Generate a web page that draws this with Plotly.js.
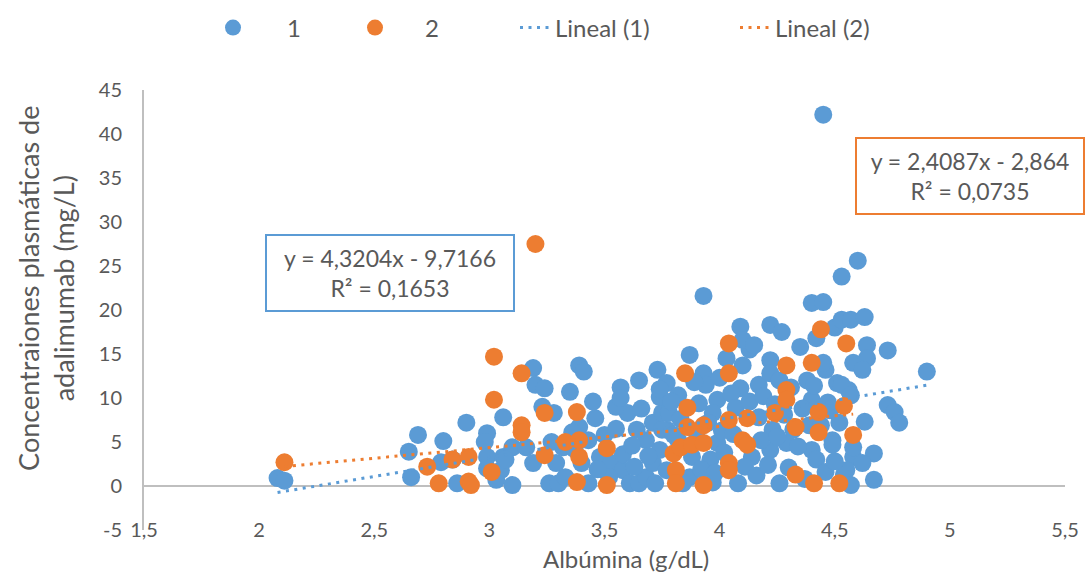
<!DOCTYPE html>
<html>
<head>
<meta charset="utf-8">
<script src="https://cdn.plot.ly/plotly-3.0.1.min.js"></script>
<style>
  html, body { margin: 0; padding: 0; background: #ffffff; }
  #chart { width: 1086px; height: 575px; }
</style>
</head>
<body>
<div id="chart"></div>
<script>
// Series 1: albumin (g/dL) vs adalimumab plasma concentration (mg/L)
const albumin1 = [
  2.08, 2.11, 2.65, 2.66, 2.69, 2.79, 2.80, 2.84, 2.86, 2.90,
  2.99, 2.98, 2.99, 3.03, 2.99, 3.06, 3.06, 3.05, 3.10, 3.10,
  3.16, 3.19, 3.19, 3.20, 3.24, 3.23, 3.28, 3.35, 3.39, 3.41,
  3.26, 3.30, 3.32, 3.29, 3.33, 3.43, 3.39, 3.43, 3.46, 3.48,
  3.53, 3.58, 3.61, 3.65, 3.68, 3.71, 3.74, 3.68, 3.64, 3.71,
  3.75, 3.77, 3.60, 3.55, 3.57, 3.57, 3.65, 3.73, 3.77,
  3.87, 4.03, 4.10, 4.13, 4.22, 4.35, 4.42, 4.58, 3.93, 3.74,
  3.82, 3.94, 3.99, 4.09, 4.17, 4.22, 4.26, 4.38, 4.46, 4.51,
  4.56, 4.40, 4.48, 4.52, 4.32, 4.23, 4.17, 3.97, 3.91, 3.78,
  3.75, 3.82, 3.88, 3.96, 3.99, 4.14, 4.22, 4.29, 4.40, 4.42,
  4.49, 4.58, 3.77, 3.87, 3.97, 4.08, 4.26, 4.54,
  4.45, 3.93, 4.60, 4.53, 4.40, 4.45, 4.09, 4.22, 4.27, 4.50,
  4.53, 4.57, 4.63, 4.10, 4.15, 4.64, 4.64, 4.73, 4.62, 4.45,
  4.90, 4.53, 4.57, 4.73, 4.76, 4.78, 4.63, 4.49, 4.58, 4.67,
  4.62, 4.55, 4.67, 4.57,
  3.50, 3.52, 3.55, 3.58, 3.62, 3.63, 3.66, 3.69, 3.72, 3.74,
  3.79, 3.80, 3.83, 3.84, 3.89, 3.90, 3.92, 3.95, 3.98, 4.00,
  4.01, 4.02, 4.05, 4.06, 4.07, 4.11, 4.13, 4.16, 4.18, 4.19,
  4.21, 4.24, 4.25, 4.28, 4.30, 4.31, 4.34, 4.36, 4.37, 4.39,
  4.41, 4.44, 4.46, 4.47, 4.50, 3.45, 3.47, 3.40, 3.37, 3.36,
  3.07, 3.27
];
const conc1 = [
  0.9, 0.6, 3.9, 1.0, 5.8, 2.7, 5.1, 3.0, 0.3, 7.2,
  6.0, 5.0, 2.0, 0.7, 3.3, 7.8, 3.3, 1.8, 4.4, 0.1,
  4.4, 2.6, 13.4, 11.5, 11.1, 9.0, 8.3, 10.7, 13.7, 13.0,
  0.3, 0.3, 4.4, 2.6, 1.0, 0.3, 6.7, 5.2, 7.7, 3.3,
  2.6, 1.8, 0.3, 0.3, 1.0, 2.6, 4.1, 5.2, 6.4, 7.2,
  8.3, 6.4, 8.3, 9.0, 11.2, 10.0, 12.0, 13.2, 11.7,
  14.9, 14.5, 13.7, 15.5, 14.3, 15.8, 16.8, 14.0, 12.8, 10.1,
  10.3, 11.5, 9.8, 11.1, 11.5, 12.8, 12.0, 12.0, 13.2, 11.7,
  10.9, 9.8, 8.6, 7.2, 6.4, 6.4, 7.8, 8.3, 9.4, 8.3,
  6.4, 5.2, 3.3, 3.0, 4.9, 3.3, 4.1, 4.9, 4.1, 3.0,
  5.2, 3.3, 1.8, 1.0, 0.4, 0.3, 0.3, 1.3,
  42.2, 21.6, 25.6, 23.8, 20.8, 20.9, 18.1, 18.3, 17.5, 18.0,
  18.9, 18.9, 19.2, 16.6, 16.0, 16.0, 14.5, 15.4, 13.2, 14.0,
  13.0, 11.5, 10.3, 9.2, 8.4, 7.2, 7.3, 4.7, 4.4, 3.7,
  2.6, 1.8, 0.7, 0.1,
  5.8, 1.0, 6.5, 3.6, 4.6, 2.2, 8.8, 3.4, 0.3, 11.0,
  9.6, 5.8, 7.6, 0.3, 11.8, 6.1, 1.9, 7.2, 1.5, 12.3,
  6.3, 3.8, 10.5, 5.9, 8.9, 2.2, 9.6, 1.2, 5.2, 10.2,
  2.4, 9.3, 5.6, 8.1, 2.1, 11.2, 4.5, 8.8, 0.8, 6.9,
  11.4, 6.9, 1.6, 9.5, 2.8, 9.6, 1.9, 2.6, 4.2, 6.1,
  3.0, 5.0
];

// Series 2
const albumin2 = [
  2.11, 2.73, 2.78, 2.84, 2.91, 2.91, 2.92, 3.02, 3.01, 3.02,
  3.14, 3.20, 3.24, 3.38, 3.14, 3.14, 3.33, 3.39, 3.51, 3.24,
  3.39, 3.38, 3.51, 3.80, 3.81, 3.81, 4.04, 3.85, 4.04, 4.29,
  4.40, 4.44, 4.55, 3.86, 4.29, 4.29, 3.86, 3.93, 4.04, 4.12,
  4.24, 4.33, 4.43, 4.43, 4.54, 4.58, 3.83, 3.88, 3.93, 4.10,
  4.12, 4.04, 4.04, 3.93, 4.33, 4.41, 4.52
];
const conc2 = [
  2.7, 2.2, 0.3, 3.0, 3.3, 0.5, 0.1, 9.8, 1.6, 14.7,
  12.8, 27.5, 8.3, 8.4, 6.9, 6.1, 5.0, 5.2, 4.3, 3.5,
  3.3, 0.45, 0.1, 3.7, 1.8, 0.3, 16.2, 12.8, 12.8, 13.7,
  14.0, 17.8, 16.2, 8.9, 10.9, 9.8, 6.7, 6.9, 7.5, 7.7,
  8.3, 6.7, 8.4, 6.1, 9.1, 5.8, 4.4, 4.7, 4.9, 5.2,
  4.7, 2.6, 1.8, 0.1, 1.3, 0.3, 0.3
];

// Linear fits as printed on the chart
const seriesNames = ['1', '2'];
const trendNames = ['Lineal (1)', 'Lineal (2)'];
const trendSlope = [4.3204, 2.4087];
const trendIntercept = [-9.7166, -2.864];
const trendLabels = [
  'y = 4,3204x - 9,7166<br>R² = 0,1653',
  'y = 2,4087x - 2,864<br>R² = 0,0735'
];

const xTickVals = [1.5, 2, 2.5, 3, 3.5, 4, 4.5, 5, 5.5];
const xTickText = ['1,5', '2', '2,5', '3', '3,5', '4', '4,5', '5', '5,5'];
const yTickVals = [-5, 0, 5, 10, 15, 20, 25, 30, 35, 40, 45];
const yTickText = ['-5', '0', '5', '10', '15', '20', '25', '30', '35', '40', '45'];
const xTitle = 'Albúmina (g/dL)';
const yTitle = 'Concentraiones plasmáticas de<br>adalimumab (mg/L)';

const BLUE = '#5B9BD5';
const ORANGE = '#ED7D31';
const GREY_TEXT = '#595959';
const FONT = 'Lato, "Open Sans", sans-serif';
const W = 1086, H = 575;

function trendLine(xs, i) {
  const lo = Math.min(...xs), hi = Math.max(...xs);
  return {
    x: [lo, hi],
    y: [trendSlope[i] * lo + trendIntercept[i], trendSlope[i] * hi + trendIntercept[i]]
  };
}

const t1 = trendLine(albumin1, 0);
const t2 = trendLine(albumin2, 1);
const DOTS = '3px,5.5px';

const data = [
  {
    x: albumin1, y: conc1, name: seriesNames[0], type: 'scatter', mode: 'markers',
    marker: { color: BLUE, size: 18 }, cliponaxis: false, legend: 'legend'
  },
  {
    x: albumin2, y: conc2, name: seriesNames[1], type: 'scatter', mode: 'markers',
    marker: { color: ORANGE, size: 18 }, cliponaxis: false, legend: 'legend2'
  },
  {
    x: t1.x, y: t1.y, name: trendNames[0], type: 'scatter', mode: 'lines',
    line: { color: BLUE, width: 3, dash: DOTS }, legend: 'legend3'
  },
  {
    x: t2.x, y: t2.y, name: trendNames[1], type: 'scatter', mode: 'lines',
    line: { color: ORANGE, width: 3, dash: DOTS }, legend: 'legend4'
  }
];

// one legend box per entry so each entry sits where it belongs in the header row
function legendAt(leftPx, itemwidth) {
  return {
    xref: 'container', yref: 'container',
    x: leftPx / W, xanchor: 'left', y: 1 - 28 / H, yanchor: 'middle',
    font: { size: 24, color: GREY_TEXT, family: FONT },
    itemwidth: itemwidth, borderwidth: 0, bgcolor: 'rgba(0,0,0,0)'
  };
}

const layout = {
  width: W, height: H,
  margin: { l: 144, r: 21, t: 90, b: 45, autoexpand: false },
  paper_bgcolor: '#ffffff', plot_bgcolor: '#ffffff',
  font: { family: FONT, color: GREY_TEXT, size: 20 },
  showlegend: true,
  legend: legendAt(179, 98),
  legend2: legendAt(325, 90),
  legend3: legendAt(515, 30),
  legend4: legendAt(735, 30),
  xaxis: {
    range: [1.5, 5.5], tickvals: xTickVals, ticktext: xTickText,
    showgrid: false, zeroline: false, showline: false, ticks: '', automargin: false,
    tickfont: { size: 20, color: GREY_TEXT }, ticklabelstandoff: -14
  },
  yaxis: {
    range: [-5, 45], tickvals: yTickVals, ticktext: yTickText, automargin: false,
    showgrid: false, zeroline: false, showline: true, linecolor: '#BFBFBF', linewidth: 2,
    ticks: '', tickfont: { size: 20, color: GREY_TEXT }, ticklabelstandoff: 16
  },
  shapes: [
    { type: 'line', xref: 'paper', x0: 0, x1: 1, yref: 'y', y0: 0, y1: 0,
      line: { color: '#BFBFBF', width: 2 }, layer: 'below' }
  ],
  annotations: [
    {
      text: xTitle, xref: 'paper', yref: 'paper', x: 0.523, y: -0.064,
      xanchor: 'center', yanchor: 'middle', showarrow: false,
      font: { size: 24, color: GREY_TEXT }
    },
    {
      text: yTitle, xref: 'paper', yref: 'paper', x: -0.1064, y: 0.548,
      xanchor: 'center', yanchor: 'middle', showarrow: false, textangle: -90,
      align: 'center', font: { size: 27, color: GREY_TEXT }
    },
    {
      text: trendLabels[0], xref: 'paper', yref: 'paper', x: 0.267, y: 0.583,
      xanchor: 'center', yanchor: 'middle', showarrow: false, align: 'center',
      font: { size: 23, color: GREY_TEXT }, bgcolor: '#ffffff',
      bordercolor: BLUE, borderwidth: 2, borderpad: 8, width: 230
    },
    {
      text: trendLabels[1], xref: 'paper', yref: 'paper', x: 0.897, y: 0.805,
      xanchor: 'center', yanchor: 'middle', showarrow: false, align: 'center',
      font: { size: 23, color: GREY_TEXT }, bgcolor: '#ffffff',
      bordercolor: ORANGE, borderwidth: 2, borderpad: 8, width: 210
    }
  ]
};

Plotly.newPlot('chart', data, layout, { displayModeBar: false, staticPlot: true });
</script>
</body>
</html>
